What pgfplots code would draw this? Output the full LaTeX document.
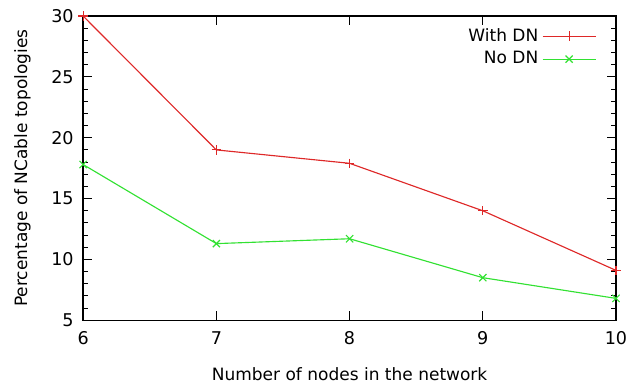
\documentclass[border=0pt]{standalone}
\usepackage{pgfplots}
\pgfplotsset{compat=1.18}
\usepackage{fontspec}
\setmainfont{DejaVu Sans}
\definecolor{gpred}{RGB}{222,40,40}
\definecolor{gpgreen}{RGB}{50,225,50}
\begin{document}
\begin{tikzpicture}
\begin{axis}[
  name=ax,
  scale only axis,
  width=282pt, height=161pt,
  xmin=6, xmax=10, ymin=5, ymax=30,
  xtick={6,7,8,9,10},
  ytick={5,10,15,20,25,30},
  minor y tick num=4,
  tick align=inside,
  major tick length=4.8pt,
  minor tick length=2.6pt,
  tick style={black, line width=0.5pt},
  axis line style={black, line width=0.7pt},
  /pgf/number format/assume math mode=true,
  ticklabel style={font=\fontsize{9.3}{11}\selectfont},
  xticklabel style={yshift=-2.5pt},
  yticklabel style={xshift=-1.5pt},
  label style={font=\fontsize{9}{11}\selectfont},
  xlabel={Number of nodes in the network},
  ylabel={Percentage of NCable topologies},
  xlabel style={at={(axis description cs:0.5,-0.178)}, anchor=center},
  ylabel style={at={(axis description cs:-0.114,0.5)}, anchor=center},
  legend plot pos=right,
  legend cell align=right,
  legend style={draw=none, fill=none, at={(axis description cs:0.967,0.98)}, anchor=north east,
    font=\fontsize{9}{11}\selectfont, row sep=0pt, inner sep=1pt},
  legend image code/.code={\draw[mark repeat=2,mark phase=2] plot coordinates {(0pt,0pt)(14pt,0pt)(28pt,0pt)};},
  clip=false,
]
\addplot[color=gpred, line width=0.6pt, mark=+, mark size=2.5pt, mark options={solid}]
  coordinates {(6,30.0) (7,19.0) (8,17.9) (9,14.0) (10,9.1)};
\addlegendentry{With DN}
\addplot[color=gpgreen, line width=0.6pt, mark=x, mark size=2.7pt, mark options={solid}]
  coordinates {(6,17.8) (7,11.3) (8,11.7) (9,8.5) (10,6.8)};
\addlegendentry{No DN}
\end{axis}
\pgfresetboundingbox
\path ([xshift=-44pt,yshift=-33.9pt]ax.south west) rectangle ([xshift=14.3pt,yshift=8.5pt]ax.north east);
\end{tikzpicture}
\end{document}
